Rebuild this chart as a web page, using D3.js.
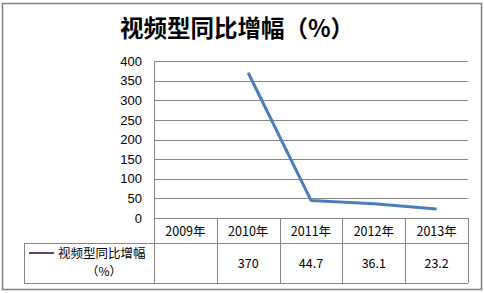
<!DOCTYPE html>
<html><head><meta charset="utf-8">
<script src="https://cdn.jsdelivr.net/npm/d3@7"></script>
<style>body{margin:0;background:#fff;}svg{display:block;}</style>
</head><body>
<script>
const title = "视频型同比增幅（%）";
const categories = ["2009年","2010年","2011年","2012年","2013年"];
const seriesName = "视频型同比增幅";
const seriesUnit = "（%）";
const values = [null, 370, 44.7, 36.1, 23.2];
const valueLabels = ["", "370", "44.7", "36.1", "23.2"];
const yTicks = [0,50,100,150,200,250,300,350,400];

(function(){
const W = 484, H = 293;
const svg = d3.select("body").append("svg").attr("width", W).attr("height", H);

// outer chart border
svg.append("rect").attr("x", 2.5).attr("y", 3.5).attr("width", 479).attr("height", 286)
  .attr("fill", "#fff").attr("stroke", "#7f7f7f").attr("stroke-width", 1.5);

const pL = 154, pR = 468, pT = 61, pB = 218;
const x = d3.scaleBand().domain(categories).range([pL, pR]);
const y = d3.scaleLinear().domain([0, 400]).range([pB, pT]);

// title
svg.append("text").attr("x", 237).attr("y", 37).attr("text-anchor", "middle")
  .attr("font-family", "'Noto Sans CJK SC', sans-serif").attr("font-weight", 700)
  .attr("font-size", 23.5).attr("fill", "#000").text(title);

// gridlines
svg.append("g").selectAll("line").data(yTicks).join("line")
  .attr("x1", pL).attr("x2", pR)
  .attr("y1", d => Math.round(y(d)) + 0.5).attr("y2", d => Math.round(y(d)) + 0.5)
  .attr("stroke", "#868686").attr("stroke-width", 1);

// y axis line
svg.append("line").attr("x1", pL + 0.5).attr("x2", pL + 0.5).attr("y1", pT).attr("y2", pB)
  .attr("stroke", "#868686");

// y tick labels
const yAxis = d3.axisLeft(y).tickValues(yTicks).tickSize(0).tickPadding(12);
const ga = svg.append("g").attr("transform", `translate(${pL},0)`).call(yAxis);
ga.select(".domain").remove();
ga.selectAll("text").attr("font-family", "'Liberation Sans', Arial, sans-serif")
  .attr("font-size", 13).attr("fill", "#000");

// line
const pts = categories.map((c, i) => ({c, v: values[i]})).filter(d => d.v != null);
svg.append("path").datum(pts)
  .attr("d", d3.line().x(d => x(d.c) + x.bandwidth() / 2).y(d => y(d.v)))
  .attr("fill", "none").attr("stroke", "#4a7ebb").attr("stroke-width", 3)
  .attr("stroke-linejoin", "round");

// data table
const row1Top = pB, row1Bot = 243, row2Bot = 283, legLeft = 24;
const tbl = svg.append("g").attr("stroke", "#868686").attr("stroke-width", 1).attr("fill", "none");
tbl.append("line").attr("x1", pL).attr("x2", pR).attr("y1", row1Bot + 0.5).attr("y2", row1Bot + 0.5);
tbl.append("line").attr("x1", legLeft).attr("x2", pL).attr("y1", row1Bot + 0.5).attr("y2", row1Bot + 0.5);
tbl.append("line").attr("x1", legLeft).attr("x2", pR).attr("y1", row2Bot + 0.5).attr("y2", row2Bot + 0.5);
tbl.append("line").attr("x1", legLeft + 0.5).attr("x2", legLeft + 0.5).attr("y1", row1Bot).attr("y2", row2Bot);
tbl.append("line").attr("x1", pL + 0.5).attr("x2", pL + 0.5).attr("y1", row1Top).attr("y2", row2Bot);
tbl.selectAll("line.col").data(categories).join("line").attr("class", "col")
  .attr("x1", d => Math.round(x(d) + x.bandwidth()) + 0.5).attr("x2", d => Math.round(x(d) + x.bandwidth()) + 0.5)
  .attr("y1", row1Top).attr("y2", row2Bot);

svg.append("g").selectAll("text").data(categories).join("text")
  .attr("x", d => x(d) + x.bandwidth() / 2).attr("y", 236).attr("text-anchor", "middle")
  .attr("font-family", "'Noto Sans CJK SC', sans-serif").attr("font-size", 12.5).attr("fill", "#000")
  .text(d => d);

svg.append("g").selectAll("text").data(categories).join("text")
  .attr("x", d => x(d) + x.bandwidth() / 2).attr("y", 268).attr("text-anchor", "middle")
  .attr("font-family", "'Noto Sans CJK SC', sans-serif").attr("font-size", 12.5).attr("fill", "#000")
  .text((d, i) => valueLabels[i]);

// legend key
svg.append("line").attr("x1", 29).attr("x2", 54).attr("y1", 253).attr("y2", 253)
  .attr("stroke", "#4b4a7e").attr("stroke-width", 2);
svg.append("text").attr("x", 58).attr("y", 258)
  .attr("font-family", "'Noto Sans CJK SC', sans-serif").attr("font-size", 12.5).attr("fill", "#000")
  .text(seriesName);
svg.append("text").attr("x", 104).attr("y", 276).attr("text-anchor", "middle")
  .attr("font-family", "'Noto Sans CJK SC', sans-serif").attr("font-size", 12).attr("fill", "#000")
  .text(seriesUnit);
})();
</script>
</body></html>
